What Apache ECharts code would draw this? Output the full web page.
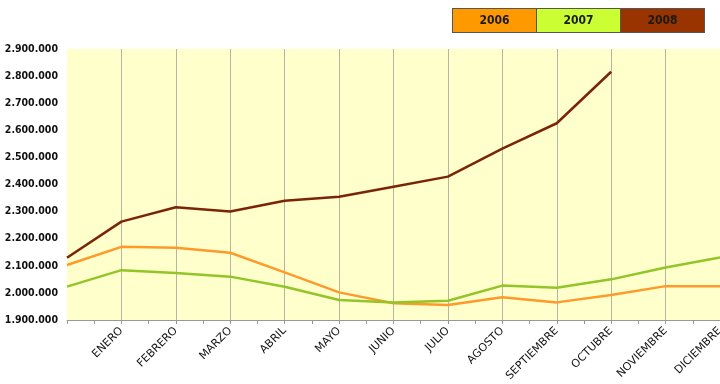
<!DOCTYPE html>
<html>
<head>
<meta charset="utf-8">
<script src="https://cdn.jsdelivr.net/npm/echarts@6/dist/echarts.min.js"></script>
<style>
  html, body { margin: 0; padding: 0; background: #fff; }
  #main { width: 720px; height: 384px; }
</style>
</head>
<body>
<div id="main"></div>
<script>
var months = ['', 'ENERO', 'FEBRERO', 'MARZO', 'ABRIL', 'MAYO', 'JUNIO', 'JULIO',
  'AGOSTO', 'SEPTIEMBRE', 'OCTUBRE', 'NOVIEMBRE', 'DICIEMBRE'];
var halfSteps = ['', '', '', '', '', '', '', '', '', '', '', '', '', '', '', '', '', '', '', '', '', '', '', ''];

var y2006 = [2103000, 2170000, 2167000, 2148000, 2076000, 2002000, 1962000, 1955000, 1984000, 1965000, 1992000, 2025000, 2025000];
var y2007 = [2023000, 2084000, 2073000, 2060000, 2023000, 1974000, 1965000, 1971000, 2027000, 2019000, 2050000, 2094000, 2131000];
var y2008 = [2130000, 2263000, 2316000, 2300000, 2340000, 2355000, 2392000, 2429000, 2532000, 2626000, 2816000, null, null];

var myChart = echarts.init(document.getElementById('main'));

function miles(v) {
    return String(v).replace(/\B(?=(\d{3})+(?!\d))/g, '.');
}

function box(bg) {
    return {
        width: 83,
        height: 23,
        lineHeight: 23,
        align: 'center',
        fontWeight: 'bold',
        fontSize: 12,
        fontFamily: 'DejaVu Sans Condensed',
        color: '#1a1a1a',
        backgroundColor: bg,
        borderColor: '#555',
        borderWidth: 1
    };
}

option = {
    animation: false,
    backgroundColor: '#fff',
    legend: {
        right: 15,
        top: 8,
        icon: 'none',
        itemWidth: 0,
        itemHeight: 0,
        itemGap: -5,
        padding: 0,
        selectedMode: false,
        formatter: function (name) { return '{y' + name + '|' + name + '}'; },
        textStyle: {
            rich: {
                y2006: box('#FF9900'),
                y2007: box('#CCFF33'),
                y2008: box('#993300')
            }
        },
        data: ['2006', '2007', '2008']
    },
    grid: {
        left: 67,
        right: 0,
        top: 49,
        bottom: 64,
        outerBoundsMode: 'none',
        show: true,
        backgroundColor: '#FFFFCC',
        borderWidth: 0
    },
    xAxis: [{
        type: 'category',
        data: months,
        boundaryGap: false,
        axisLine: { lineStyle: { color: '#999', width: 1 } },
        axisTick: { show: false },
        axisLabel: {
            rotate: 45,
            interval: 0,
            margin: 9,
            fontSize: 11,
            fontFamily: 'DejaVu Sans',
            color: '#111'
        },
        splitLine: {
            show: true,
            interval: function (i) { return i > 0; },
            lineStyle: { color: '#B5B5A5', width: 1 }
        }
    }, {
        type: 'category',
        data: halfSteps,
        position: 'bottom',
        boundaryGap: true,
        axisLine: { show: false },
        axisLabel: { show: false },
        axisTick: { show: true, interval: 0, length: 4, lineStyle: { color: '#999' } },
        splitLine: { show: false }
    }],
    yAxis: {
        type: 'value',
        min: 1900000,
        max: 2900000,
        interval: 100000,
        axisLine: { show: false },
        axisTick: { show: false },
        splitLine: { show: false },
        axisLabel: {
            margin: 9,
            fontSize: 10.5,
            fontWeight: 'bold',
            fontFamily: 'DejaVu Sans Condensed',
            color: '#111',
            formatter: miles
        }
    },
    series: [{
        name: '2006',
        type: 'line',
        data: y2006,
        showSymbol: false,
        color: '#FF9900',
        lineStyle: { color: '#FF9A2A', width: 2.5 }
    }, {
        name: '2007',
        type: 'line',
        data: y2007,
        showSymbol: false,
        color: '#CCFF33',
        lineStyle: { color: '#92C528', width: 2.5 }
    }, {
        name: '2008',
        type: 'line',
        data: y2008,
        showSymbol: false,
        color: '#993300',
        lineStyle: { color: '#7A2508', width: 2.5 }
    }]
};

myChart.setOption(option);
</script>
</body>
</html>
